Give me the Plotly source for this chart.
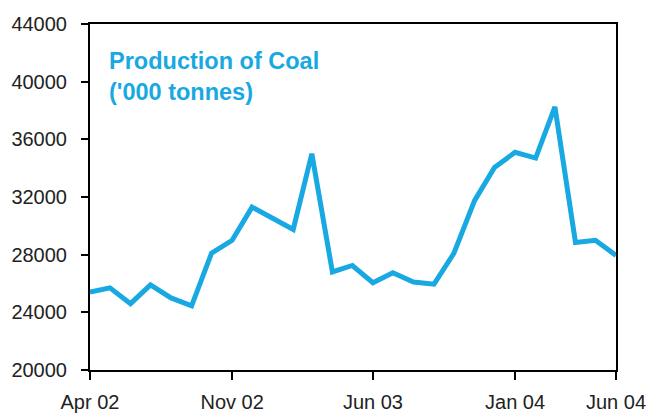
import plotly.graph_objects as go

months = ["2002-04-01","2002-05-01","2002-06-01","2002-07-01","2002-08-01","2002-09-01",
          "2002-10-01","2002-11-01","2002-12-01","2003-01-01","2003-02-01","2003-03-01",
          "2003-04-01","2003-05-01","2003-06-01","2003-07-01","2003-08-01","2003-09-01",
          "2003-10-01","2003-11-01","2003-12-01","2004-01-01","2004-02-01","2004-03-01",
          "2004-04-01","2004-05-01","2004-06-01"]
production = [25400, 25700, 24600, 25900, 25000, 24450,
              28100, 29000, 31300, 30500, 29750, 35000,
              26800, 27250, 26050, 26750, 26100, 25950,
              28100, 31750, 34050, 35100, 34700, 38250,
              28850, 29000, 27950]

tick_vals = ["2002-04-01", "2002-11-01", "2003-06-01", "2004-01-01", "2004-06-01"]
tick_text = ["Apr 02", "Nov 02", "Jun 03", "Jan 04", "Jun 04"]
y_ticks = [20000, 24000, 28000, 32000, 36000, 40000, 44000]
y_text = [str(v) for v in y_ticks]

blue = "#18a8e2"

fig = go.Figure()
fig.add_trace(go.Scatter(x=months, y=production, mode="lines",
                         line=dict(color=blue, width=5), showlegend=False, cliponaxis=True))

fig.add_annotation(xref="paper", yref="paper", x=0.033, y=0.935, xanchor="left", yanchor="top",
                   text="<b>Production of Coal<br>('000 tonnes)</b>", showarrow=False, align="left",
                   font=dict(family="Liberation Sans, Arial", size=23.5, color=blue))

fig.update_layout(
    width=650, height=414,
    margin=dict(l=90, r=34, t=24, b=44, autoexpand=False),
    paper_bgcolor="white", plot_bgcolor="white",
    font=dict(family="Liberation Sans, Arial", size=20, color="#222222"),
)
fig.update_xaxes(type="date", range=["2002-04-01", "2004-06-01"], tickvals=tick_vals, ticktext=tick_text,
                 showgrid=False, zeroline=False, showline=True, linecolor="black", linewidth=2, mirror=True,
                 ticks="outside", ticklen=8, tickwidth=2, tickcolor="black", automargin=False,
                 ticklabelstandoff=5)
fig.update_yaxes(range=[20000, 44000], tickvals=y_ticks, ticktext=y_text, showgrid=False, zeroline=False,
                 showline=True, linecolor="black", linewidth=2, mirror=True,
                 ticks="outside", ticklen=7, tickwidth=2, tickcolor="black", automargin=False,
                 ticklabelstandoff=10)

fig.write_html("out.html", config={"displayModeBar": False},
               post_script="document.body.style.margin='0';document.body.style.overflow='hidden';")
